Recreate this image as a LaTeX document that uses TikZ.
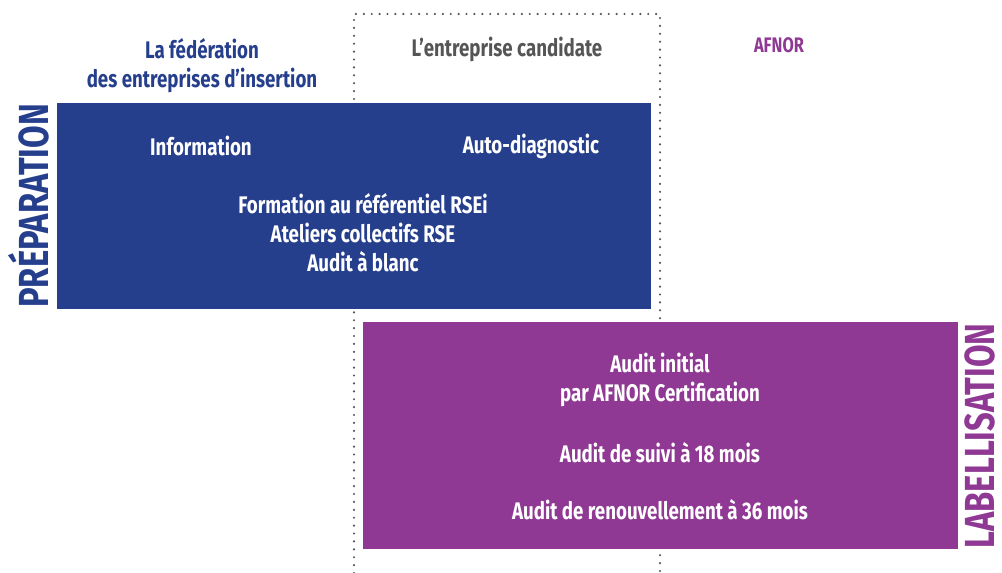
\documentclass[tikz,border=0pt]{standalone}
\usepackage{fontspec}
\setmainfont{Fira Sans}[FakeStretch=0.78]
\usepackage{tikz}
\definecolor{prep}{RGB}{38, 63, 141}
\definecolor{labl}{RGB}{143, 57, 148}
\definecolor{grey}{RGB}{85, 85, 85}

\tikzset{
  txt/.style={font=\bfseries\fontsize{24}{29}\selectfont, align=center, inner sep=0pt},
  phase/.style={font=\bfseries\fontsize{42}{42}\selectfont, rotate=90, inner sep=0pt,
    text height=29pt, text depth=0pt}
}

\begin{document}
\begin{tikzpicture}[x=1pt, y=-1pt]
  \useasboundingbox (0, 0) rectangle (1002, 573);

  % column of the candidate
  \draw[grey, line width=2.4, line cap=round, dash pattern=on 0pt off 7.9pt]
    (354, 573) -- (354, 14) -- (660, 14) -- (660, 573);

  \node[txt, text=prep] (fede) at (202, 66) {La fédération\\des entreprises d’insertion};
  \node[txt, text=grey] (cand) at (507, 49) {L’entreprise candidate};
  \node[txt, text=labl, font=\bfseries\fontsize{21}{25}\selectfont] (afnor) at (779, 45) {AFNOR};

  \fill[prep] (57, 103) rectangle (651, 309);
  \node[phase, text=prep] (prepa) at (34, 206) {PRÉPARATION};

  \node[txt, text=white] (info) at (201, 146) {Information};
  \node[txt, text=white] (diag) at (531, 146) {Auto-diagnostic};
  \node[txt, text=white] (form) at (363, 233) {Formation au référentiel RSEi\\Ateliers collectifs RSE\\Audit à blanc};

  \fill[labl] (363, 322) rectangle (958, 549);
  \node[phase, text=labl] (labe) at (980, 436) {LABELLISATION};

  \node[txt, text=white] (init) at (660, 380) {Audit initial\\par AFNOR Certification};
  \node[txt, text=white] (suivi) at (660, 453) {Audit de suivi à 18 mois};
  \node[txt, text=white] (renou) at (660, 510) {Audit de renouvellement à 36 mois};

\end{tikzpicture}
\end{document}
